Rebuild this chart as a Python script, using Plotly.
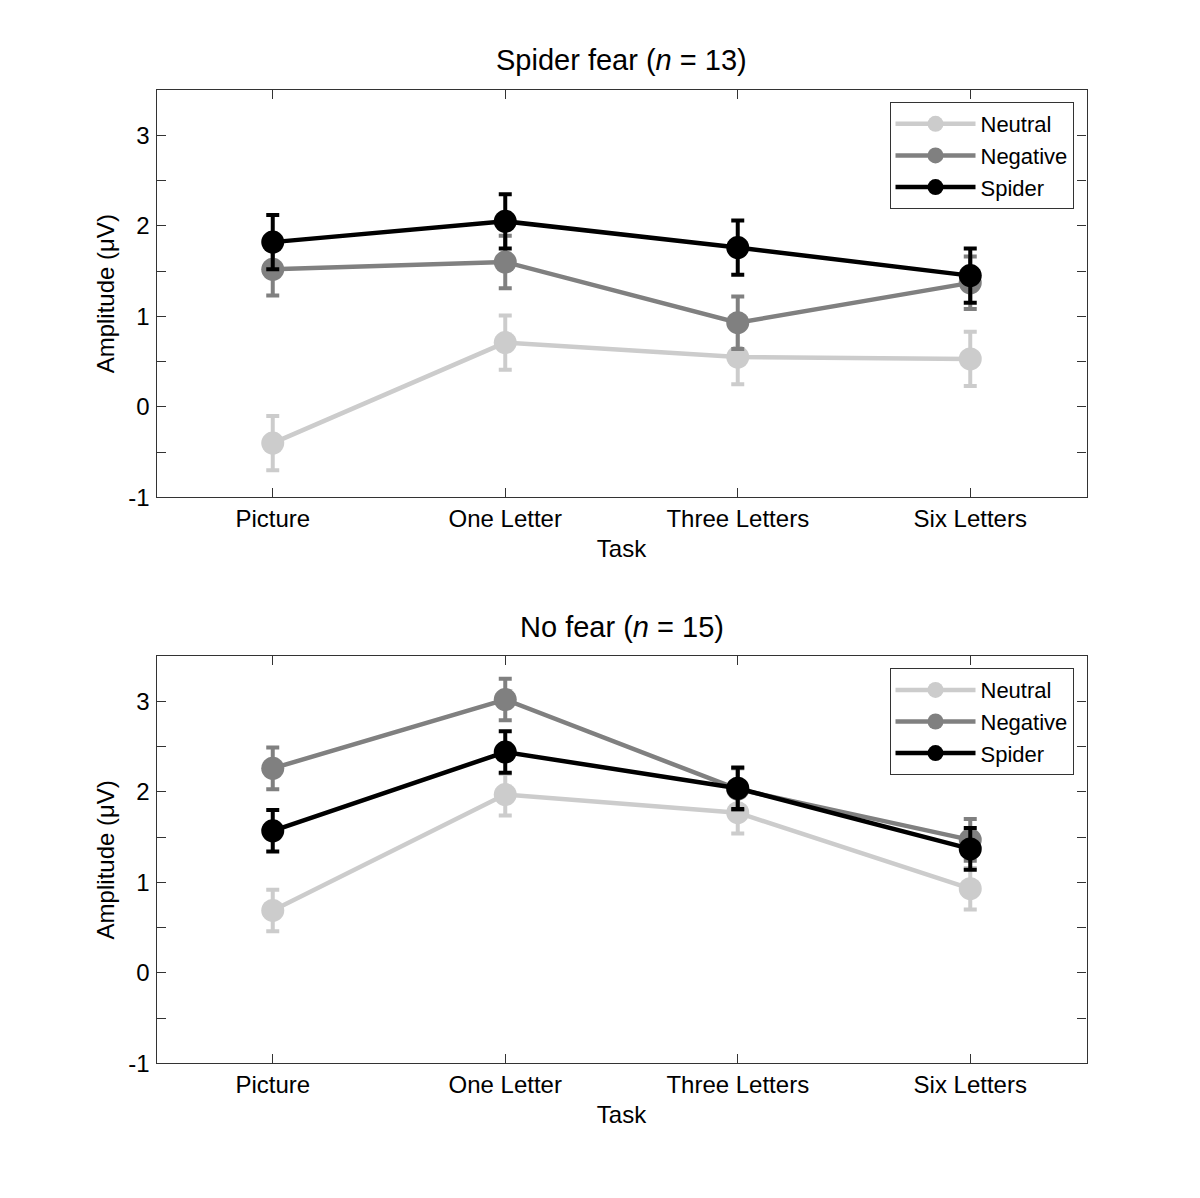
import plotly.graph_objects as go
from plotly.subplots import make_subplots

tasks = ["Picture", "One Letter", "Three Letters", "Six Letters"]
series_names = ["Neutral", "Negative", "Spider"]
colors = ["#cccccc", "#808080", "#000000"]

# Spider fear group (n = 13)
fear_neutral = [-0.40, 0.71, 0.55, 0.53]
fear_negative = [1.52, 1.60, 0.93, 1.37]
fear_spider = [1.82, 2.05, 1.76, 1.45]
fear_neutral_err = [0.30, 0.30, 0.30, 0.30]
fear_negative_err = [0.29, 0.29, 0.29, 0.29]
fear_spider_err = [0.30, 0.30, 0.30, 0.30]

# No fear group (n = 15)
nofear_neutral = [0.69, 1.97, 1.77, 0.93]
nofear_negative = [2.26, 3.02, 2.03, 1.47]
nofear_spider = [1.57, 2.44, 2.04, 1.37]
nofear_neutral_err = [0.23, 0.23, 0.23, 0.23]
nofear_negative_err = [0.23, 0.23, 0.23, 0.23]
nofear_spider_err = [0.23, 0.23, 0.23, 0.23]

ytick_vals = [-1, 0, 1, 2, 3]
ytick_text = ["-1", "0", "1", "2", "3"]
titles = ["Spider fear (<i>n</i> = 13)", "No fear (<i>n</i> = 15)"]

FONT = "Liberation Sans, Arial, sans-serif"
W, H = 1200, 1198
RENDER_H = 1187.0
OFF_X, OFF_Y = 7.5, 7.8

fig = make_subplots(rows=2, cols=1)

groups = [
    ([fear_neutral, fear_negative, fear_spider],
     [fear_neutral_err, fear_negative_err, fear_spider_err]),
    ([nofear_neutral, nofear_negative, nofear_spider],
     [nofear_neutral_err, nofear_negative_err, nofear_spider_err]),
]

for r, (vals, errs) in enumerate(groups, start=1):
    for name, col, v, e in zip(series_names, colors, vals, errs):
        fig.add_trace(go.Scatter(
            x=tasks, y=v, name=name, mode="lines+markers",
            line=dict(color=col, width=4.5),
            marker=dict(color=col, size=23),
            error_y=dict(type="data", array=e, color=col, thickness=4, width=6.5),
            legend="legend" if r == 1 else "legend2",
        ), row=r, col=1)


def py(p):
    return 1 - (p - OFF_Y) / RENDER_H


def px(p):
    return (p - OFF_X) / W


xdom = [px(156), px(1086)]
ydoms = [[py(498), py(90)], [py(1065), py(657)]]

TXT = dict(family=FONT, size=24, color="#000")
axis_common = dict(
    showline=True, linecolor="#333333", linewidth=1.2, mirror="ticks",
    ticks="inside", ticklen=9, tickcolor="#333333", tickwidth=1,
    showgrid=False, zeroline=False,
    tickfont=TXT,
)

for i in (1, 2):
    fig.update_xaxes(
        domain=xdom, range=[-0.5, 3.5], type="category",
        ticklabelstandoff=0,
        title=dict(text="Task", font=TXT, standoff=8),
        row=i, col=1, **axis_common)
    fig.update_yaxes(
        domain=ydoms[i - 1], range=[-1, 3.5], tickvals=ytick_vals, ticktext=ytick_text,
        ticklabelstandoff=1,
        minor=dict(ticks="inside", tickvals=[-0.5, 0.5, 1.5, 2.5], ticklen=9,
                   tickcolor="#333333"),
        title=dict(text="Amplitude (μV)", font=TXT, standoff=6),
        row=i, col=1, **axis_common)

legend_common = dict(
    bgcolor="white", bordercolor="#333333", borderwidth=1,
    font=dict(family=FONT, size=22, color="#000"),
    xanchor="right", yanchor="top", itemwidth=80, tracegroupgap=0,
)
fig.update_layout(
    legend=dict(x=px(1073), y=py(102), **legend_common),
    legend2=dict(x=px(1073), y=py(669), **legend_common),
)

for t, yp in zip(titles, [60, 628]):
    fig.add_annotation(text=t, x=px(621), y=py(yp), xref="paper", yref="paper",
                       showarrow=False, xanchor="center", yanchor="middle",
                       font=dict(family=FONT, size=29, color="#000"))

fig.update_layout(
    width=W, height=H, margin=dict(l=0, r=0, t=0, b=0),
    plot_bgcolor="white", paper_bgcolor="white", showlegend=True,
    font=dict(family=FONT),
)

fig.write_html("out.html")
